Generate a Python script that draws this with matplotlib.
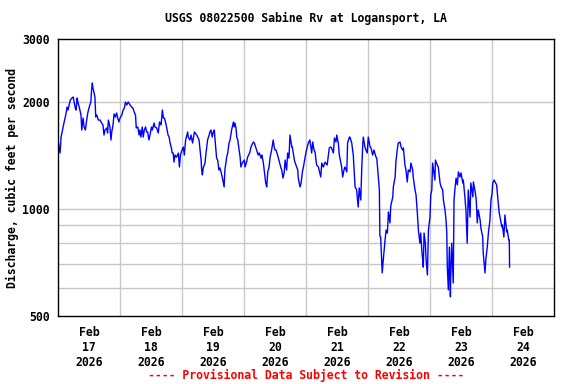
import matplotlib
matplotlib.use("Agg")
import matplotlib.pyplot as plt
from matplotlib.ticker import FixedLocator, FixedFormatter, NullFormatter, NullLocator
import pandas as pd

# Hours since 2026-02-17 00:00 and discharge (cfs)
hours = [0.1, 0.4, 0.8, 1.2, 1.5, 1.9, 2.3, 3.0, 3.5, 3.9, 4.3, 4.8, 5.4, 5.9, 6.6, 7.0, 7.4, 7.7, 8.3, 8.9,
         9.2, 9.7, 10.1, 10.6, 11.1, 11.6, 12.2, 12.7, 13.0, 13.3, 13.5, 13.9, 14.3, 14.6, 15.0, 15.6, 16.3, 16.9, 17.4, 17.8,
         18.2, 18.9, 19.2, 19.5, 20.1, 20.5, 20.8, 21.3, 21.7, 22.2, 22.7, 23.1, 23.6, 24.0, 24.7, 25.2, 25.7, 26.1, 26.6, 27.2,
         27.9, 28.5, 29.0, 29.5, 30.0, 30.3, 30.9, 31.4, 31.7, 32.1, 32.6, 33.0, 33.4, 33.9, 34.3, 34.7, 35.2, 35.6, 36.2, 36.5,
         37.2, 37.5, 38.2, 38.8, 39.3, 39.9, 40.4, 40.8, 41.2, 41.7, 42.1, 42.6, 43.0, 43.4, 43.9, 44.2, 44.6, 44.9, 45.3, 45.9,
         46.6, 47.0, 47.4, 48.0, 48.5, 48.9, 49.4, 50.2, 50.4, 51.1, 51.5, 52.1, 52.8, 53.7, 54.1, 54.6, 55.0, 55.4, 55.6, 55.9,
         56.2, 56.9, 57.3, 57.9, 58.5, 58.8, 59.2, 59.7, 60.1, 60.5, 60.8, 61.4, 61.8, 62.3, 62.7, 63.4, 63.8, 64.3, 64.6, 65.3,
         65.7, 66.2, 66.6, 67.2, 67.9, 68.2, 68.5, 68.9, 69.2, 69.6, 70.1, 70.5, 70.8, 71.3, 72.1, 72.4, 73.0, 73.4, 74.3, 74.7,
         75.6, 76.0, 76.5, 76.9, 77.5, 77.9, 78.6, 78.9, 79.5, 79.9, 80.4, 80.8, 81.2, 81.7, 82.1, 82.7, 83.3, 83.7, 84.0, 84.4,
         85.0, 85.5, 86.3, 86.6, 87.1, 87.6, 87.9, 88.5, 88.9, 89.4, 89.8, 90.5, 90.7, 91.5, 91.7, 92.8, 93.0, 93.7, 94.1, 94.6,
         95.0, 95.6, 96.0, 96.9, 97.5, 98.2, 98.6, 99.1, 99.5, 100.1, 100.8, 101.7, 102.1, 102.7, 103.4, 104.2, 105.0, 105.6, 105.9, 106.6,
         107.0, 107.6, 107.9, 108.5, 108.9, 109.8, 110.2, 110.7, 111.1, 111.8, 112.1, 112.8, 113.0, 113.7, 114.3, 115.0, 115.6, 116.2, 116.6, 117.2,
         117.6, 118.0, 118.2, 118.8, 119.2, 119.7, 120.1, 120.8, 121.2, 121.8, 122.3, 123.1, 123.4, 124.0, 124.4, 124.6, 124.9, 125.3, 125.5, 125.9,
         126.6, 127.0, 127.5, 127.9, 128.5, 128.8, 129.6, 129.8, 130.5, 130.8, 131.3, 131.7, 132.4, 132.8, 133.4, 133.7, 134.3, 134.7, 135.2, 135.6,
         136.3, 136.6, 137.3, 137.5, 138.2, 138.6, 139.1, 139.5, 140.1, 140.4, 140.9, 141.2, 141.4, 141.7, 142.2, 142.5, 143.0, 143.4, 144.0, 144.3,
         144.7, 145.0, 145.9, 146.1, 146.8, 147.2, 147.9, 148.3, 148.9, 149.2, 149.8, 150.2, 150.5, 150.7, 151.1, 151.5, 151.9, 152.0, 152.4, 153.0,
         153.3, 153.7, 154.1, 154.6, 155.0, 155.6, 156.0, 156.7, 156.9, 157.5, 157.9, 158.4, 158.8, 159.5, 159.8, 160.6, 160.8, 161.5, 161.9, 162.3,
         162.7, 163.4, 163.7, 164.4, 164.6, 165.3, 165.6, 166.2, 166.6, 167.2, 167.6, 168.0, 168.3, 168.8, 169.2, 169.8, 170.2, 170.8, 171.1, 171.8,
         172.0, 172.6, 173.0, 173.7, 173.9, 174.5, 174.7, 174.8]

discharge = [1551, 1492, 1435, 1591, 1633, 1687, 1742, 1835, 1932, 1895, 1958, 2022, 2048, 2061, 1932, 1895, 2048, 1996, 1920, 1835,
             1665, 1799, 1698, 1665, 1776, 1870, 1945, 1996, 2157, 2257, 2185, 2129, 2061, 1811, 1835, 1776, 1776, 1742, 1720, 1612,
             1665, 1687, 1633, 1776, 1698, 1561, 1644, 1720, 1847, 1811, 1859, 1799, 1754, 1799, 1835, 1895, 1920, 1996, 1958, 1996,
             1958, 1932, 1920, 1870, 1835, 1687, 1698, 1612, 1665, 1591, 1698, 1591, 1665, 1698, 1644, 1644, 1561, 1612, 1698, 1665,
             1742, 1698, 1687, 1633, 1754, 1720, 1895, 1799, 1799, 1742, 1687, 1612, 1591, 1531, 1482, 1435, 1435, 1353, 1416, 1397,
             1435, 1311, 1416, 1463, 1492, 1416, 1561, 1644, 1591, 1561, 1612, 1531, 1644, 1612, 1591, 1561, 1463, 1371, 1286, 1245,
             1303, 1345, 1435, 1561, 1612, 1644, 1665, 1591, 1644, 1665, 1561, 1388, 1371, 1286, 1303, 1245, 1205, 1152, 1286, 1397,
             1435, 1531, 1561, 1665, 1754, 1698, 1742, 1687, 1591, 1561, 1463, 1397, 1311, 1345, 1371, 1311, 1353, 1397, 1444, 1492,
             1541, 1531, 1492, 1463, 1416, 1435, 1388, 1416, 1345, 1270, 1182, 1152, 1270, 1311, 1397, 1463, 1561, 1492, 1463, 1463,
             1416, 1371, 1303, 1286, 1220, 1270, 1371, 1286, 1435, 1388, 1612, 1492, 1492, 1371, 1353, 1286, 1220, 1152, 1182, 1270,
             1311, 1388, 1444, 1531, 1561, 1435, 1541, 1463, 1444, 1328, 1311, 1229, 1345, 1311, 1353, 1328, 1482, 1492, 1482, 1435,
             1581, 1541, 1612, 1531, 1416, 1311, 1229, 1286, 1311, 1270, 1531, 1591, 1591, 1531, 1416, 1152, 1130, 1012, 1145, 1059,
             1311, 1531, 1591, 1492, 1463, 1435, 1591, 1492, 1482, 1416, 1463, 1397, 1388, 1229, 1130, 838, 833, 718, 661, 718,
             817, 872, 855, 980, 913, 1018, 1080, 1152, 1229, 1353, 1463, 1531, 1541, 1492, 1463, 1482, 1328, 1286, 1190, 1286,
             1270, 1345, 1286, 1229, 1130, 1094, 974, 872, 801, 855, 751, 718, 686, 855, 801, 718, 652, 872, 949, 1094,
             1130, 1345, 1205, 1371, 1328, 1311, 1182, 1152, 1130, 1059, 993, 930, 855, 686, 592, 781, 566, 631, 801, 619,
             1059, 1145, 1220, 1167, 1270, 1229, 1262, 1182, 1205, 1080, 993, 801, 1130, 949, 1182, 1080, 1190, 1115, 1059, 913,
             993, 930, 884, 833, 751, 661, 718, 786, 855, 930, 1059, 1101, 1182, 1205, 1190, 1167, 1080, 974, 949, 890,
             901, 833, 961, 861, 872, 817, 817, 686]

start = pd.Timestamp("2026-02-17 00:00")
end = pd.Timestamp("2026-02-25 00:00")
y_ticks = [500, 1000, 2000, 3000]
y_grid = [600, 700, 800, 900, 1000, 2000]
day_labels = ["Feb\n17\n2026", "Feb\n18\n2026", "Feb\n19\n2026", "Feb\n20\n2026",
              "Feb\n21\n2026", "Feb\n22\n2026", "Feb\n23\n2026", "Feb\n24\n2026"]

times = start + pd.to_timedelta(hours, unit="h")

mono = "DejaVu Sans Mono"
fs = 8.3

fig = plt.figure(figsize=(5.76, 3.84), dpi=100)
ax = fig.add_axes([58 / 576, 1 - 316 / 384, (554 - 58) / 576, (316 - 39) / 384])

ax.plot(times, discharge, color="#0000ff", linewidth=1.0)

ax.set_yscale("log")
ax.set_ylim(500, 3000)
ax.set_xlim(start, end)

# Y axis
ax.yaxis.set_major_locator(FixedLocator(y_ticks))
ax.yaxis.set_major_formatter(FixedFormatter([str(v) for v in y_ticks]))
ax.yaxis.set_minor_locator(FixedLocator(y_grid))
ax.yaxis.set_minor_formatter(NullFormatter())
for v in y_grid:
    ax.axhline(v, color="#c8c8c8", linewidth=1.0, zorder=0)

# X axis: grid at midnight, labels at noon
midnights = pd.date_range(start, end, freq="D")
noons = pd.date_range(start + pd.Timedelta(hours=12), periods=8, freq="D")
for d in midnights[1:-1]:
    ax.axvline(d, color="#c8c8c8", linewidth=1.0, zorder=0)
ax.set_xticks(noons)
ax.set_xticklabels(day_labels)
ax.xaxis.set_minor_locator(NullLocator())

ax.tick_params(axis="both", which="both", length=0)
ax.tick_params(axis="x", pad=7)
ax.tick_params(axis="y", pad=6)
for lab in ax.get_xticklabels() + ax.get_yticklabels():
    lab.set_fontfamily(mono)
    lab.set_fontweight("bold")
    lab.set_fontsize(fs)
for lab in ax.get_xticklabels():
    lab.set_linespacing(1.2)

for s in ax.spines.values():
    s.set_color("black")
    s.set_linewidth(1.0)

ax.set_title("USGS 08022500 Sabine Rv at Logansport, LA", fontfamily=mono,
             fontweight="bold", fontsize=fs, pad=12)
fig.text(12 / 576, 1 - 178 / 384, "Discharge, cubic feet per second", rotation=90,
         ha="center", va="center", fontfamily=mono, fontweight="bold", fontsize=fs)
fig.text(306 / 576, 1 - 375 / 384, "---- Provisional Data Subject to Revision ----",
         ha="center", va="center", color="#ff0000", fontfamily=mono,
         fontweight="bold", fontsize=fs)

fig.savefig("out.png", dpi=100)
